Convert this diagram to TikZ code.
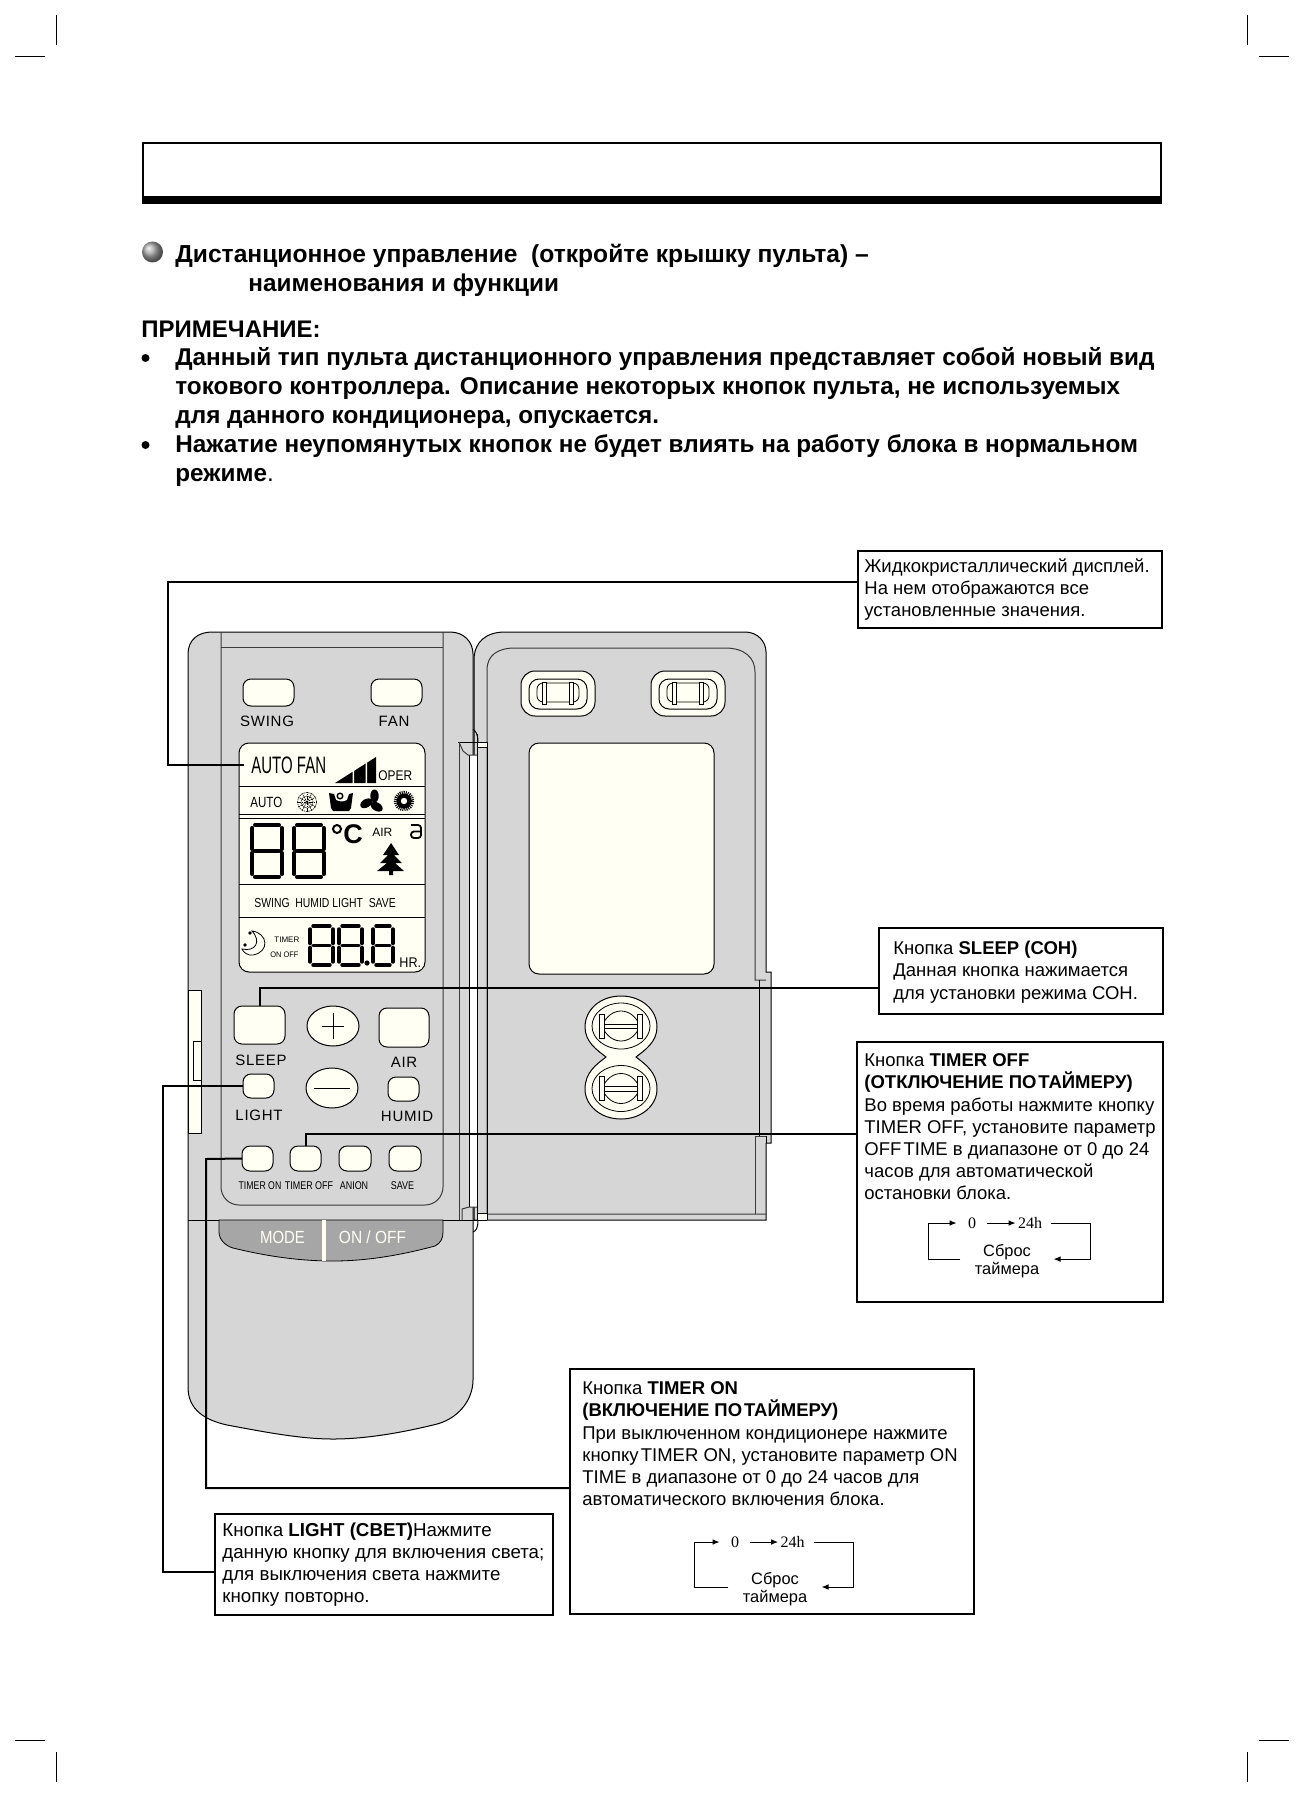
\documentclass[tikz,border=0pt]{standalone}
\usepackage{fontspec}
\setmainfont{Liberation Sans}
\newfontfamily\spacedfont[LetterSpace=5]{Liberation Sans}
\newfontfamily\timesfont{Liberation Serif}
\usetikzlibrary{arrows.meta,positioning,calc}
\definecolor{bodygray}{HTML}{D6D6D6}
\definecolor{creamfill}{HTML}{FFFFF4}
\definecolor{modegray}{HTML}{A6A6A6}
\definecolor{edgegray}{HTML}{3A3A3A}
\newcommand{\lcddigit}[5]{%
  \draw[line width=#5,line cap=round] (#1+3,#3) -- (#2-3,#3) (#1+3,#4) -- (#2-3,#4)
    (#1+3,{(#3+#4)/2}) -- (#2-3,{(#3+#4)/2})
    (#1,#3+3) -- (#1,{(#3+#4)/2-2}) (#2,#3+3) -- (#2,{(#3+#4)/2-2})
    (#1,{(#3+#4)/2+2}) -- (#1,#4-3) (#2,{(#3+#4)/2+2}) -- (#2,#4-3);}

\begin{document}
\begin{tikzpicture}[x=0.5pt,y=-0.5pt,
  body/.style={fill=bodygray,draw=black,line width=.5pt},
  thin line/.style={draw=edgegray,line width=.5pt},
  cream/.style={fill=creamfill,draw=black,line width=.5pt},
  btn/.style 2 args={cream,rounded corners=4pt,inner sep=0pt,outer sep=0pt,minimum width=#1*0.5pt,minimum height=#2*0.5pt},
  leader/.style={draw=black,line width=1pt},
  infobox/.style 2 args={draw=black,line width=1.15pt,anchor=north west,inner sep=0pt,outer sep=0pt,minimum width=#1*0.5pt,minimum height=#2*0.5pt},
  boxtext/.style={anchor=north west,align=left,inner sep=0pt,font=\fontsize{9.25}{11.07}\selectfont},
  headtext/.style={anchor=north west,align=left,inner sep=0pt,font=\fontsize{12.15}{14.6}\selectfont\bfseries},
  keylabel/.style={anchor=base,inner sep=0pt,font=\fontsize{7.5}{8}\spacedfont},
  smalllabel/.style={anchor=base,inner sep=0pt,font=\fontsize{5.6}{6}\selectfont},
  looptext/.style={inner ysep=1pt,font=\fontsize{8}{9}\timesfont},
  resettext/.style={align=center,inner xsep=7pt,inner ysep=0pt,font=\fontsize{8.2}{9}\selectfont},
  looparrow/.style={-{Latex[length=3.5pt,width=2.8pt]},line width=.5pt},
  loopline/.style={line width=.5pt}]
\fill[white] (0,0) rectangle (1304,1797);
\useasboundingbox (0,0) rectangle (1304,1797);

\foreach \vx/\vy/\hx/\hy in {56.5/15/15/56.5,1247/15/1259/56.5,56.5/1752/15/1740,1247/1752/1259/1740}
  \draw[line width=.5pt] (\vx,\vy) -- ++(0,30) (\hx,\hy) -- ++(30,0);

\draw[line width=1pt] (143,143.5) rectangle (1161,200);
\fill (142,196) rectangle (1162,204);

\shade[ball color=gray!70] (152.5,252) circle (10.5);
\node[headtext,font=\fontsize{12.3}{14.6}\selectfont\bfseries] (title) at (175,244) {Дистанционное управление\ \ (откройте крышку пульта) –};
\node[headtext] (subtitle) at (248,273) {наименования и функции};
\node[headtext,font=\fontsize{12}{14.6}\selectfont\bfseries] (note) at (141,321) {ПРИМЕЧАНИЕ:};
\node[headtext] (bulletone) at (175,347) {Данный тип пульта дистанционного управления представляет собой новый вид\\токового контроллера. Описание некоторых кнопок пульта, не используемых\\для данного кондиционера, опускается.};
\node[headtext] (bullettwo) at (175,434) {Нажатие неупомянутых кнопок не будет влиять на работу блока в нормальном\\режиме\textmd{.}};
\fill (145.5,358) circle (4) (145.5,445) circle (4);

\draw[body] (188,1387) -- (188,654) .. controls (188,640) and (198,632) .. (212,632) -- (450,632) .. controls (464,632) and (473,642) .. (473,654) -- (473,1380) .. controls (473,1400) and (458,1420) .. (433,1425) .. controls (400,1433) and (365,1439) .. (333,1439) .. controls (300,1439) and (265,1432) .. (227,1425) .. controls (205,1420) and (188,1410) .. (188,1387) -- cycle;
\draw[thin line,rounded corners=9pt] (221,632) -- (221,1205) -- (443,1205) -- (443,632);
\draw[thin line] (221,647) -- (443,647);
\draw[cream] (188,990) rectangle (201,1133) (193,1041) rectangle (201,1080);

\draw[body] (474,1220) -- (474,660) .. controls (474,642) and (486,632) .. (505,632) -- (745,632) .. controls (758,632) and (766,642) .. (766,652) -- (766,972) -- (771,972) -- (771,1143) -- (766,1143) -- (766,1220) -- cycle;
\draw[thin line] (766,1214) -- (487,1214) -- (487,670) .. controls (487,655) and (498,648) .. (515,648) -- (725,648) .. controls (745,648) and (755,658) .. (755,672) -- (755,980) -- (766,980);
\draw[thin line] (766,1136) -- (755,1136) -- (755,1214);
\draw[draw=black,line width=.5pt] (759,980) -- (759,1136) (766,1136) -- (766,1143);

\foreach \sx in {0,130}{
  \draw[cream,rounded corners=7pt] (521+\sx,671) rectangle (595+\sx,716);
  \draw[cream,rounded corners=5pt] (529+\sx,679) rectangle (587+\sx,709);
  \draw[cream,line width=.4pt,rounded corners=3pt] (537+\sx,683) rectangle (579+\sx,702);
  \draw[cream,line width=.4pt] (542+\sx,682) rectangle (546+\sx,704) (569+\sx,682) rectangle (573+\sx,704);
}
\node[btn={185}{231},rounded corners=5pt] (screen) at (621.5,858.5) {};

\draw[cream] (621,996) .. controls (642,996) and (657,1010) .. (657,1027) .. controls (657,1042) and (645,1050) .. (636,1057) .. controls (645,1064) and (657,1072) .. (657,1089) .. controls (657,1105) and (642,1119) .. (621,1119) .. controls (600,1119) and (585,1105) .. (585,1089) .. controls (585,1072) and (597,1064) .. (606,1057) .. controls (597,1050) and (585,1042) .. (585,1027) .. controls (585,1010) and (600,996) .. (621,996) -- cycle;
\foreach \ey in {1026,1088.5}{
  \draw[cream,line width=.4pt] (621,\ey) ellipse [x radius=29,y radius=23];
  \draw[line width=.4pt] (602,\ey) .. controls (610,\ey-20) and (632,\ey-20) .. (640,\ey) .. controls (632,\ey+20) and (610,\ey+20) .. (602,\ey);
  \draw[cream,line width=.4pt] (599,\ey-12) rectangle (604,\ey+12) (637,\ey-12) rectangle (642,\ey+12);
  \draw[line width=.3pt] (604,\ey-2) -- (637,\ey-2) (604,\ey+2.5) -- (637,\ey+2.5);
}

\fill[creamfill] (477,1213) rectangle (487,1220) (477,742) rectangle (487,747);
\fill[white] (469,755) rectangle (477,1207);
\draw[line width=.5pt] (469,755) -- (469,1207) (477,734) -- (477,1220) (487,742) -- (487,1220) (458,742) -- (487,742) (477,747) -- (487,747) (477,1213) -- (487,1213);
\draw[thin line] (459,742) -- (459,1220);
\draw[thin line] (459,742) -- (463,751) -- (468,755) -- (477,755);
\draw[thin line] (462,1220) -- (462,1209) -- (469,1207) -- (477,1207);
\draw[line width=.5pt] (473,729) .. controls (475,731) and (478,733) .. (478,742);
\draw[line width=.5pt] (478,1220) .. controls (478,1228) and (476,1231) .. (473,1232);
\draw[line width=.5pt] (188,1220) -- (487,1220);

\fill[modegray,draw=black,line width=.4pt] (219,1220) -- (219,1232) .. controls (219,1240) and (226,1246) .. (233,1248) .. controls (262,1255) and (295,1261) .. (333,1261) .. controls (370,1261) and (405,1254) .. (435,1246) .. controls (441,1243) and (443,1238) .. (443,1232) -- (443,1220) -- cycle;
\fill[creamfill] (322,1220) rectangle (326,1261);
\node[anchor=base,inner sep=0pt,text=creamfill,font=\fontsize{8.8}{9}\selectfont] (modelabel) at (282.5,1243) {\scalebox{.85}[1]{MODE}};
\node[anchor=base,inner sep=0pt,text=creamfill,font=\fontsize{8.8}{9}\selectfont] (onofflabel) at (372.5,1243) {\scalebox{.88}[1]{ON / OFF}};

\foreach \name/\bx/\by/\bw/\bh in {swingbtn/268.5/692.5/51/27,fanbtn/396.5/692.5/51/27,sleepbtn/259.5/1025/51/38,airbtn/404/1027.5/50/39,lightbtn/258.5/1086/31/24,humidbtn/403.5/1089/31/24,timeronbtn/257.5/1158.5/31/25,timeroffbtn/305.5/1158.5/31/25,anionbtn/355/1158.5/32/25,savebtn/405/1158.5/32/25}
  \node[btn={\bw}{\bh}] (\name) at (\bx,\by) {};

\draw[cream] (333,1026) ellipse [x radius=26,y radius=20];
\draw[cream] (332,1088) ellipse [x radius=26,y radius=20];
\draw[line width=.5pt] (322,1026) -- (344,1026) (333,1013) -- (333,1039) (314,1088) -- (350,1088);

\foreach \name/\lx/\ly/\ltext in {swinglabel/267/726/SWING,fanlabel/394/726/FAN,sleeplabel/261/1065/SLEEP,airlabel/404/1067/AIR,lightlabel/259/1120/LIGHT,humidlabel/407/1121/HUMID}
  \node[keylabel] (\name) at (\lx,\ly) {\ltext};
\foreach \name/\lx/\ltext/\lscale in {timeronlabel/260/TIMER ON/.78,timerofflabel/309/TIMER OFF/.8,anionlabel/354/ANION/.8,savelabel/402.5/SAVE/.8}
  \node[smalllabel] (\name) at (\lx,1189) {\scalebox{\lscale}[1]{\ltext}};

\node[btn={186}{229},rounded corners=5pt] (lcd) at (332,857.5) {};
\draw[line width=.5pt] (239,786) -- (425,786) (239,814) -- (425,814) (239,818) -- (425,818) (239,884) -- (425,884) (239,917) -- (425,917);
\node[anchor=west,inner xsep=3.5pt,inner ysep=0pt,font=\fontsize{11.9}{12}\selectfont] (autofan) at (244,765) {\scalebox{.63}[1]{AUTO FAN}};
\fill (335,783) -- (376,757) -- (376,783) -- cycle;
\fill[creamfill] (352.5,757) rectangle (354,784) (365.5,757) rectangle (367,784);
\node[anchor=base west,inner sep=0pt,font=\fontsize{7}{8}\selectfont] (oper) at (378,780) {\scalebox{.85}[1]{OPER}};
\node[anchor=base west,inner sep=0pt,font=\fontsize{7.4}{8}\selectfont] (autolabel) at (250,807) {\scalebox{.78}[1]{AUTO}};

\foreach \a in {0,30,...,150}
  \draw[line width=.3pt,dash pattern=on .8pt off .4pt,rotate around={\a:(307,802)}] (297,802) -- (317,802);
\draw[line width=.3pt,dash pattern=on .8pt off .4pt] (307,802) circle (6) (307,802) circle (9.5);

\fill (329,793) -- (334,794) -- (336,800) .. controls (340,802) and (344,802) .. (347,800) -- (349,794) -- (353,793) -- (351,808) -- (349,811) -- (333,811) -- (331,808) -- cycle;
\draw[cream,line width=.7pt] (340,796) circle (2.8);

\foreach \a in {90,210,330}
  \fill[rotate around={\a:(372.5,802)}] (378.5,804) ellipse [x radius=6.5,y radius=4.2];

\fill (404,801) circle (7.5);
\fill[creamfill] (404,801) circle (3.2);
\draw[line width=1.6pt,dash pattern=on .5pt off .5pt] (404,801) circle (8.6);

\lcddigit{252}{282}{825}{877}{2pt}
\lcddigit{294}{324}{825}{877}{2pt}
\draw[line width=1pt] (337,829) circle (4);
\node[anchor=base west,inner sep=0pt,font=\fontsize{13.5}{14}\selectfont\bfseries] (celsius) at (343,843) {C};
\node[anchor=base west,inner sep=0pt,font=\fontsize{6}{7}\selectfont] (airtext) at (372,836) {AIR};
\draw[line width=.9pt,rounded corners=1.5pt] (411,825) -- (421,825) -- (421,838) -- (411,838) -- (411,831.5) -- (421,831.5);
\fill (391,843) -- (383,855) -- (388,855) -- (380,863) -- (387,863) -- (377,871) -- (389,871) -- (389,875) -- (393,875) -- (393,871) -- (404,871) -- (395,863) -- (402,863) -- (394,855) -- (399,855) -- cycle;

\node[anchor=base west,inner sep=0pt,font=\fontsize{6.5}{7}\selectfont] (lcdrow) at (254,907) {\scalebox{.8}[1]{SWING\ \ HUMID LIGHT\ \ SAVE}};

\draw[line width=.4pt] (252,931) .. controls (268,933) and (270,952) .. (253,955) .. controls (248,956) and (243,952) .. (242,949) .. controls (255,952) and (262,942) .. (252,931) -- cycle;
\fill (250,933) circle (1.8) (245,945) circle (1.8);
\node[anchor=base west,inner sep=0pt,font=\fontsize{4}{5}\selectfont] (timertext) at (274,942) {TIMER};
\node[anchor=base west,inner sep=0pt,font=\fontsize{4}{5}\selectfont] (onofftext) at (270,957) {\scalebox{.93}[1]{ON OFF}};
\lcddigit{310}{333}{926}{965}{1.7pt}
\lcddigit{339}{362}{926}{965}{1.7pt}
\lcddigit{373}{393}{926}{965}{1.7pt}
\fill (367,963) circle (2.6);
\node[anchor=base west,inner sep=0pt,font=\fontsize{7}{8}\selectfont] (hrtext) at (399,967) {\scalebox{.9}[1]{HR.}};

\node[infobox={304}{77}] (lcdbox) at (858,551) {};
\node[boxtext] (lcdtext) at (864,558.5) {Жидкокристаллический дисплей.\\На нем отображаются все\\установленные значения.};
\node[infobox={284}{86}] (sleepbox) at (879,928) {};
\node[boxtext] (sleeptext) at (893,941) {Кнопка \textbf{SLEEP (СОН)}\\Данная кнопка нажимается\\для установки режима СОН.};
\node[infobox={306}{260}] (timeroffbox) at (857,1042) {};
\node[boxtext] (timerofftext) at (864,1053.5) {Кнопка \textbf{TIMER OFF}\\\textbf{(ОТКЛЮЧЕНИЕ ПО\hspace{.1em}ТАЙМЕРУ)}\\Во время работы нажмите кнопку\\TIMER OFF, установите параметр\\OFF\hspace{.12em}TIME в диапазоне от 0 до 24\\часов для автоматической\\остановки блока.};
\node[infobox={404}{245}] (timeronbox) at (570,1369) {};
\node[boxtext] (timerontext) at (582,1381.5) {Кнопка \textbf{TIMER ON}\\\textbf{(ВКЛЮЧЕНИЕ ПО\hspace{.1em}ТАЙМЕРУ)}\\При выключенном кондиционере нажмите\\кнопку\hspace{.12em}TIMER ON, установите параметр ON\\TIME в диапазоне от 0 до 24 часов для\\автоматического включения блока.};
\node[infobox={338}{101}] (lightbox) at (215,1514) {};
\node[boxtext,font=\fontsize{9.36}{11.07}\selectfont] (lighttext) at (222,1522.5) {Кнопка \textbf{LIGHT (СВЕТ)}Нажмите\\данную кнопку для включения света;\\для выключения света нажмите\\кнопку повторно.};

\node[looptext,inner xsep=5.5pt] (offzero) at (972,1223) {0};
\node[looptext,inner xsep=1pt] (offhours) at (1030,1223) {24h};
\node[resettext] (offreset) at (1007,1261.5) {Сброс\\таймера};
\draw[looparrow] (offzero.east) -- (offhours.west);
\draw[looparrow] ([yshift=1.2pt]offreset.west) -| (928,1223) -- (offzero.west);
\draw[looparrow] ([xshift=3.5pt]offhours.east) -- (1090,1223) |- ([yshift=1.2pt]offreset.east);

\node[looptext,inner xsep=5.5pt] (onzero) at (735,1542) {0};
\node[looptext,inner xsep=1pt] (onhours) at (792.5,1542) {24h};
\node[resettext] (onreset) at (775,1589) {Сброс\\таймера};
\draw[looparrow] (onzero.east) -- (onhours.west);
\draw[looparrow] ([yshift=1pt]onreset.west) -| (694,1542) -- (onzero.west);
\draw[looparrow] ([xshift=3.5pt]onhours.east) -- (853,1542) |- ([yshift=1pt]onreset.east);

\coordinate (lcdend) at (lcdbox.west |- 0,582);
\coordinate (lcdelbow) at (168,765);
\coordinate (sleepend) at (sleepbox.west |- 0,988);
\coordinate (timeroffend) at (timeroffbox.west |- 0,1134);
\coordinate (timeronend) at (timeronbox.west |- 0,1488);
\coordinate (timeronelbow) at (206,1159);
\coordinate (lightend) at (lightbox.west |- 0,1572);
\coordinate (lightelbow) at (163,1086);
\draw[leader] (lcdend) -| (lcdelbow) -- (autofan.west);
\draw[leader] (sleepbtn.north) |- (sleepend);
\draw[leader] (timeroffbtn.north) |- (timeroffend);
\draw[leader] (timeronbtn.west) -- (timeronelbow) |- (timeronend);
\draw[leader] (lightbtn.west) -- (lightelbow) |- (lightend);
\end{tikzpicture}
\end{document}
